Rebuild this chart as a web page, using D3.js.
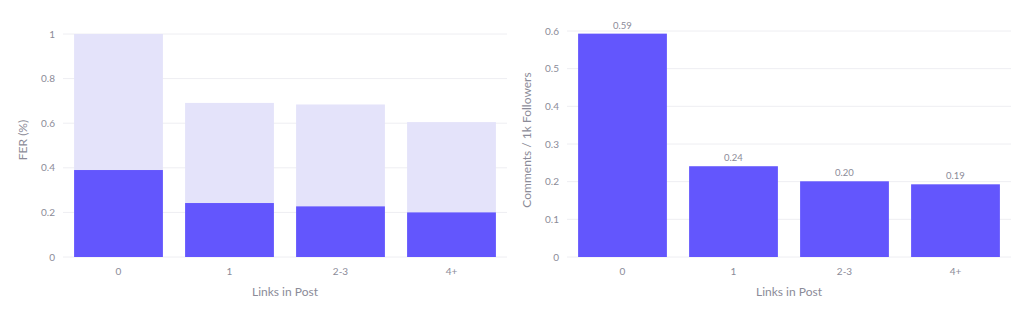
<!DOCTYPE html>
<html lang="en">
<head>
<meta charset="UTF-8">
<title>Links in Post</title>
<script src="https://cdn.jsdelivr.net/npm/d3@7"></script>
<style>
    body { margin: 0; background: #fff; }
    svg { display: block; font-family: "Lato", "Open Sans", sans-serif; }
</style>
</head>
<body>
<div id="chart"></div>
<script>
// Data
var categories = ["0", "1", "2-3", "4+"]
var ferTotal = [1.0, 0.691, 0.684, 0.605]
var ferPart = [0.39, 0.242, 0.227, 0.200]
var commentsPer1k = [0.593, 0.241, 0.201, 0.193]
var leftTicks = [0, 0.2, 0.4, 0.6, 0.8, 1]
var rightTicks = [0, 0.1, 0.2, 0.3, 0.4, 0.5, 0.6]

var width = 1024
var height = 318
var dark = "#6356fd"
var light = "#e4e3fa"
var textColor = "#8b8b98"
var gridColor = "#eeeef2"

var svg = d3.select("#chart").append("svg")
    .attr("width", width)
    .attr("height", height)

// draws one panel and returns its scales
function panel(left, right, top, ticks, yTitle, tickFmt) {
    var bottom = 257
    var x = d3.scaleBand().domain(categories).range([left, right])
        .paddingInner(0.2).paddingOuter(0.1)
    var y = d3.scaleLinear().domain([0, ticks[ticks.length - 1]]).range([bottom, top])
    var g = svg.append("g")

    // grid lines
    g.append("g").selectAll("line").data(ticks).join("line")
        .attr("x1", left).attr("x2", right)
        .attr("y1", d => y(d)).attr("y2", d => y(d))
        .attr("stroke", gridColor).attr("stroke-width", 1)

    // y tick labels
    g.append("g").selectAll("text").data(ticks).join("text")
        .attr("x", left - 8).attr("y", d => y(d))
        .attr("dy", "0.35em")
        .attr("text-anchor", "end")
        .attr("font-size", 10)
        .attr("fill", textColor)
        .text(tickFmt)

    // x tick labels
    g.append("g").selectAll("text").data(categories).join("text")
        .attr("x", d => x(d) + x.bandwidth() / 2)
        .attr("y", 275)
        .attr("text-anchor", "middle")
        .attr("font-size", 10)
        .attr("fill", textColor)
        .text(d => d)

    // axis titles
    g.append("text")
        .attr("x", (left + right) / 2).attr("y", 296)
        .attr("text-anchor", "middle")
        .attr("font-size", 12)
        .attr("fill", textColor)
        .text("Links in Post")

    g.append("text")
        .attr("transform", "translate(" + (left - 40) + ",140) rotate(-90)")
        .attr("dy", "0.35em")
        .attr("text-anchor", "middle")
        .attr("font-size", 12)
        .attr("fill", textColor)
        .text(yTitle)

    return { g: g, x: x, y: y }
}

// Left panel: FER (%)
var p1 = panel(63, 507, 34, leftTicks, "FER (%)", d => d === 0 || d === 1 ? String(d) : d3.format(".1f")(d))
p1.g.append("g").selectAll("rect").data(ferTotal).join("rect")
    .attr("x", (d, i) => p1.x(categories[i]))
    .attr("y", d => p1.y(d))
    .attr("width", p1.x.bandwidth())
    .attr("height", d => p1.y(0) - p1.y(d))
    .attr("fill", light)
p1.g.append("g").selectAll("rect").data(ferPart).join("rect")
    .attr("x", (d, i) => p1.x(categories[i]))
    .attr("y", d => p1.y(d))
    .attr("width", p1.x.bandwidth())
    .attr("height", d => p1.y(0) - p1.y(d))
    .attr("fill", dark)

// Right panel: Comments / 1k Followers
var p2 = panel(567, 1011, 31, rightTicks, "Comments / 1k Followers", d => d === 0 ? "0" : d3.format(".1f")(d))
p2.g.append("g").selectAll("rect").data(commentsPer1k).join("rect")
    .attr("x", (d, i) => p2.x(categories[i]))
    .attr("y", d => p2.y(d))
    .attr("width", p2.x.bandwidth())
    .attr("height", d => p2.y(0) - p2.y(d))
    .attr("fill", dark)
p2.g.append("g").selectAll("text").data(commentsPer1k).join("text")
    .attr("x", (d, i) => p2.x(categories[i]) + p2.x.bandwidth() / 2)
    .attr("y", d => p2.y(d) - 5)
    .attr("text-anchor", "middle")
    .attr("font-size", 9.5)
    .attr("fill", textColor)
    .text(d => d3.format(".2f")(d))
</script>
</body>
</html>
